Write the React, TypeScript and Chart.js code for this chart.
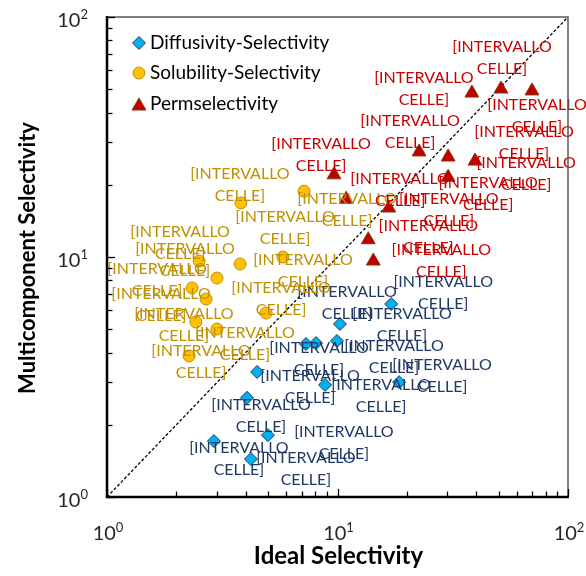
import React, { useEffect, useRef } from 'react';
import { Chart, registerables } from 'chart.js';

Chart.register(...registerables);

// ---------- data ----------
const seriesNames = ['Diffusivity-Selectivity', 'Solubility-Selectivity', 'Permselectivity'];

const diffusivityIdeal = [2.91, 4.21, 4.99, 4.05, 4.48, 8.83, 7.3, 8.07, 9.95, 10.25, 18.5, 17.1];
const diffusivityMulti = [1.71, 1.44, 1.81, 2.59, 3.32, 2.93, 4.34, 4.38, 4.47, 5.26, 3.01, 6.37];

const solubilityIdeal = [7.16, 3.81, 2.51, 3.78, 5.8, 3.0, 2.34, 2.69, 4.9, 2.43, 3.0, 2.27];
const solubilityMulti = [18.8, 16.8, 9.62, 9.35, 10.0, 8.17, 7.43, 6.68, 5.84, 5.36, 5.01, 3.87];

const permIdeal = [38.3, 51.2, 69.8, 22.6, 30.2, 39.5, 9.66, 30.2, 10.9, 16.7, 13.6, 14.3];
const permMulti = [48.2, 50.1, 49.2, 27.4, 26.1, 25.1, 22.0, 21.5, 17.4, 16.0, 11.8, 9.62];

const parityLine = [1, 100];
const decades = [1, 10, 100];
const decadeExponents = ['0', '1', '2'];
const minorMultipliers = [2, 3, 4, 5, 6, 7, 8, 9];
const dataLabelLines = ['[INTERVALLO', 'CELLE]'];

const axisTitleX = 'Ideal Selectivity';
const axisTitleY = 'Multicomponent Selectivity';

// ---------- label placement (pixel offsets from each point) ----------
const diffusivityLabelOffsets = [[25, 18], [55, 10], [76, 8], [14, 18], [53, 15], [56, 11], [13, 15], [31, -40], [57, 16], [62, 1], [43, -6], [52, -11]];
const solubilityLabelOffsets = [[43, 19], [-1, -18], [-19, -18], [45, -36], [20, 14], [-32, -18], [-35, -8], [-45, 6], [15, -14], [-12, 3], [28, 15], [12, 6]];
const permLabelOffsets = [[-48, -4], [1, -31], [5, 25], [-9, -20], [78, 17], [49, -18], [-13, -20], [40, 17], [54, -9], [60, 2], [60, -3], [68, 0]];

// ---------- styles ----------
const FONT = 'Lato, "Open Sans", sans-serif';
const styles = [
  { pointStyle: 'rectRot', radius: 6.5, fill: '#00B0F0', stroke: '#1F3864', label: '#1F3864' },
  { pointStyle: 'circle', radius: 6, fill: '#FFC000', stroke: '#BF9000', label: '#BF9000' },
  { pointStyle: 'triangle', radius: 8, fill: '#C00000', stroke: '#843C0C', label: '#C80000' },
];

function drawMarker(ctx: CanvasRenderingContext2D, style: string, x: number, y: number, r: number, fill: string, stroke: string) {
  ctx.beginPath();
  if (style === 'rectRot') {
    ctx.moveTo(x - r, y);
    ctx.lineTo(x, y - r);
    ctx.lineTo(x + r, y);
    ctx.lineTo(x, y + r);
    ctx.closePath();
  } else if (style === 'circle') {
    ctx.arc(x, y, r, 0, Math.PI * 2);
  } else {
    ctx.moveTo(x, y - r);
    ctx.lineTo(x + r * 0.866, y + r * 0.5);
    ctx.lineTo(x - r * 0.866, y + r * 0.5);
    ctx.closePath();
  }
  ctx.fillStyle = fill;
  ctx.fill();
  ctx.lineWidth = 1;
  ctx.strokeStyle = stroke;
  ctx.stroke();
}

function drawPower(ctx: CanvasRenderingContext2D, x: number, baseline: number, exp: string, align: 'right' | 'center') {
  ctx.font = `20px ${FONT}`;
  const w1 = ctx.measureText('10').width;
  ctx.font = `13px ${FONT}`;
  const w2 = ctx.measureText(exp).width;
  const total = w1 + w2;
  const start = align === 'right' ? x - total : x - total / 2;
  ctx.textAlign = 'left';
  ctx.textBaseline = 'alphabetic';
  ctx.fillStyle = '#262626';
  ctx.font = `20px ${FONT}`;
  ctx.fillText('10', start, baseline);
  ctx.font = `13px ${FONT}`;
  ctx.fillText(exp, start + w1, baseline - 8);
}

const decorPlugin = {
  id: 'decor',
  afterDatasetsDraw(chart: any) {
    const ctx: CanvasRenderingContext2D = chart.ctx;
    const { left, right, top, bottom } = chart.chartArea;
    const xs = chart.scales.x;
    const ys = chart.scales.y;
    ctx.save();

    // data labels
    const offsets = [diffusivityLabelOffsets, solubilityLabelOffsets, permLabelOffsets];
    ctx.font = `16px ${FONT}`;
    ctx.textAlign = 'center';
    ctx.textBaseline = 'middle';
    for (let d = 0; d < 3; d++) {
      const meta = chart.getDatasetMeta(d);
      ctx.fillStyle = styles[d].label;
      meta.data.forEach((pt: any, i: number) => {
        const [dx, dy] = offsets[d][i];
        const cx = pt.x + dx;
        const cy = pt.y + dy;
        ctx.fillText(dataLabelLines[0], cx, cy - 11);
        ctx.fillText(dataLabelLines[1], cx, cy + 11);
      });
    }

    // frame: top & right grey
    ctx.strokeStyle = '#595959';
    ctx.lineWidth = 1.5;
    ctx.beginPath();
    ctx.moveTo(left, top);
    ctx.lineTo(right, top);
    ctx.lineTo(right, bottom);
    ctx.stroke();

    // ticks
    ctx.strokeStyle = '#000';
    ctx.lineWidth = 1.3;
    const tickVals: { v: number; major: boolean }[] = [];
    decades.forEach((d, i) => {
      tickVals.push({ v: d, major: true });
      if (i < decades.length - 1) minorMultipliers.forEach((m) => tickVals.push({ v: d * m, major: false }));
    });
    tickVals.forEach(({ v, major }) => {
      const len = major ? 8 : 5.5;
      const px = Math.round(xs.getPixelForValue(v)) + 0.5;
      ctx.beginPath();
      ctx.moveTo(px, bottom);
      ctx.lineTo(px, bottom - len);
      ctx.stroke();
      const py = Math.round(ys.getPixelForValue(v)) + 0.5;
      ctx.beginPath();
      ctx.moveTo(left, py);
      ctx.lineTo(left + len, py);
      ctx.stroke();
    });

    // left & bottom axes black
    ctx.strokeStyle = '#000';
    ctx.lineWidth = 2.5;
    ctx.beginPath();
    ctx.moveTo(left, top - 1);
    ctx.lineTo(left, bottom);
    ctx.lineTo(right + 1, bottom);
    ctx.stroke();

    // tick labels
    decades.forEach((d, i) => {
      drawPower(ctx, left - 19, ys.getPixelForValue(d) + 10, decadeExponents[i], 'right');
      drawPower(ctx, xs.getPixelForValue(d) + 1, bottom + 43, decadeExponents[i], 'center');
    });

    // axis titles
    ctx.fillStyle = '#000';
    ctx.textAlign = 'center';
    ctx.textBaseline = 'alphabetic';
    ctx.font = `bold 24px ${FONT}`;
    ctx.fillText(axisTitleX, (left + right) / 2 + 1, bottom + 67);
    ctx.font = `bold 22px ${FONT}`;
    ctx.save();
    ctx.translate(35, (top + bottom) / 2 + 1);
    ctx.rotate(-Math.PI / 2);
    ctx.fillText(axisTitleY, 0, 0);
    ctx.restore();

    // legend
    const legendRows = [43, 73, 104];
    ctx.font = `19px ${FONT}`;
    ctx.textAlign = 'left';
    ctx.textBaseline = 'middle';
    seriesNames.forEach((name, i) => {
      const s = styles[i];
      const my = i === 2 ? legendRows[i] + 2 : legendRows[i];
      drawMarker(ctx, s.pointStyle, left + 32, my, s.radius, s.fill, s.stroke);
      ctx.fillStyle = '#000';
      ctx.fillText(name, left + 43, legendRows[i]);
    });

    ctx.restore();
  },
};

export default function App() {
  const canvasRef = useRef<HTMLCanvasElement | null>(null);

  useEffect(() => {
    document.body.style.margin = '0';
    const canvas = canvasRef.current;
    if (!canvas) return;
    const mk = (xs: number[], ys: number[]) => xs.map((x, i) => ({ x, y: ys[i] }));
    const scatterSet = (label: string, xs: number[], ys: number[], s: any) => ({
      type: 'scatter' as const,
      label,
      data: mk(xs, ys),
      pointStyle: s.pointStyle,
      pointRadius: s.radius,
      pointHoverRadius: s.radius,
      backgroundColor: s.fill,
      borderColor: s.stroke,
      pointBorderWidth: 1,
      borderWidth: 1,
      showLine: false,
      clip: false as any,
      order: 1,
    });
    const chart = new Chart(canvas, {
      type: 'scatter',
      data: {
        datasets: [
          scatterSet(seriesNames[0], diffusivityIdeal, diffusivityMulti, styles[0]),
          scatterSet(seriesNames[1], solubilityIdeal, solubilityMulti, styles[1]),
          scatterSet(seriesNames[2], permIdeal, permMulti, styles[2]),
          {
            type: 'line' as const,
            label: 'parity',
            data: mk(parityLine, parityLine),
            borderColor: '#000',
            borderWidth: 1.3,
            borderDash: [3, 2],
            pointRadius: 0,
            fill: false,
            order: 10,
          } as any,
        ],
      },
      options: {
        animation: false,
        responsive: false,
        devicePixelRatio: 1,
        layout: { padding: { left: 107, right: 18, top: 17, bottom: 79 } },
        plugins: { legend: { display: false }, tooltip: { enabled: false } },
        scales: {
          x: { type: 'logarithmic', min: 1, max: 100, display: false },
          y: { type: 'logarithmic', min: 1, max: 100, display: false },
        },
      },
      plugins: [decorPlugin],
    });
    return () => chart.destroy();
  }, []);

  return (
    <div style={{ width: 586, height: 576 }}>
      <canvas ref={canvasRef} width={586} height={576} style={{ display: 'block' }} />
    </div>
  );
}
